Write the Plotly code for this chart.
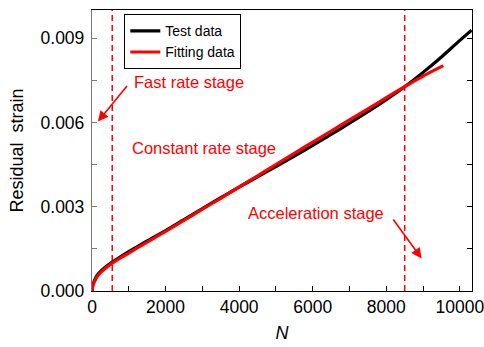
import plotly.graph_objects as go

# Residual strain vs. number of cycles N
n_test = [0, 20, 50, 80, 150, 260, 400, 550, 750, 1000, 1250, 1500, 2000, 2500, 3000,
          3500, 4000, 4500, 5000, 5500, 6000, 6500, 7000, 7500, 8000, 8500, 9000,
          9500, 10000, 10320]
strain_test = [0.0, 0.00020, 0.00032, 0.00041, 0.00058, 0.00073, 0.00089, 0.00103,
               0.00120, 0.00140, 0.00159, 0.00178, 0.00215, 0.00254, 0.00293, 0.00332,
               0.00370, 0.00406, 0.00443, 0.00480, 0.00518, 0.00557, 0.00597, 0.00638,
               0.00681, 0.00727, 0.00778, 0.00833, 0.00892, 0.00928]

n_fit = [0, 20, 50, 80, 150, 260, 400, 550, 750, 1000, 1250, 1500, 2000, 2500, 3000,
         3500, 4000, 4500, 5000, 5500, 6000, 6500, 7000, 7500, 8000, 8500, 9000, 9550]
strain_fit = [0.0, 0.00017, 0.00028, 0.00037, 0.00053, 0.00069, 0.00085, 0.00099,
              0.00116, 0.00135, 0.00155, 0.00174, 0.00212, 0.00251, 0.00291, 0.00330,
              0.00370, 0.00410, 0.00450, 0.00490, 0.00530, 0.00569, 0.00609, 0.00648,
              0.00688, 0.00727, 0.00765, 0.00802]

# Stage boundaries (cycles)
stage_bounds = [550, 8500]

RED = "#ff0000"
GREY = "#7a7a7a"
FONT = "Arial, Liberation Sans, sans-serif"

fig = go.Figure()
fig.add_trace(go.Scatter(x=n_test, y=strain_test, mode="lines", name="Test data",
                         line=dict(color="black", width=3.2, shape="spline", smoothing=0.8)))
fig.add_trace(go.Scatter(x=n_fit, y=strain_fit, mode="lines", name="Fitting data",
                         line=dict(color=RED, width=3.2, shape="spline", smoothing=0.8)))

for nb in stage_bounds:
    fig.add_shape(type="line", x0=nb, x1=nb, y0=0, y1=1, xref="x", yref="paper",
                  line=dict(color=RED, width=1.5, dash="6px,4px"), layer="below")

# Stage labels with arrows
fig.add_annotation(x=160, y=0.00603, ax=985, ay=0.00735, xref="x", yref="y",
                   axref="x", ayref="y", showarrow=True, arrowhead=2, arrowsize=1.3,
                   arrowwidth=1.6, arrowcolor=RED, text="")
fig.add_annotation(x=1090, y=0.00745, text="Fast rate stage", showarrow=False,
                   xanchor="left", yanchor="middle", font=dict(color=RED, size=16.5, family=FONT))
fig.add_annotation(x=1040, y=0.00509, text="Constant rate stage", showarrow=False,
                   xanchor="left", yanchor="middle", font=dict(color=RED, size=16.5, family=FONT))
fig.add_annotation(x=4190, y=0.00278, text="Acceleration stage", showarrow=False,
                   xanchor="left", yanchor="middle", font=dict(color=RED, size=16.5, family=FONT))
fig.add_annotation(x=8960, y=0.00116, ax=8160, ay=0.0026, xref="x", yref="y",
                   axref="x", ayref="y", showarrow=True, arrowhead=2, arrowsize=1.3,
                   arrowwidth=1.6, arrowcolor=RED, text="")

fig.update_layout(
    width=484, height=347,
    margin=dict(l=92, r=12, t=10, b=56, autoexpand=False),
    paper_bgcolor="white", plot_bgcolor="white",
    font=dict(family=FONT, color="black", size=16),
    showlegend=True,
    legend=dict(x=0.085, y=0.985, xanchor="left", yanchor="top",
                bordercolor="black", borderwidth=1, bgcolor="white",
                font=dict(size=14, family=FONT), tracegroupgap=0,
                itemwidth=30),
)
fig.update_xaxes(
    range=[0, 10330], dtick=2000, tick0=0, tickformat="d",
    ticklabeloverflow="allow", automargin=False,
    showline=True, linecolor="black", linewidth=1.3, mirror=True,
    ticks="inside", ticklen=5, tickwidth=1.2, tickcolor="black",
    minor=dict(dtick=1000, ticks="inside", ticklen=5, tickwidth=1.2, tickcolor="black"),
    showgrid=False, zeroline=False,
    tickfont=dict(size=17.5),
    title=dict(text="<i>N</i>", font=dict(size=18), standoff=10),
)
# Left axis (grey) with labels
fig.update_layout(yaxis=dict(
    range=[0, 0.0100], dtick=0.003, tick0=0, tickformat=".3f", automargin=False,
    showline=True, linecolor=GREY, linewidth=1.3, mirror=False,
    ticks="inside", ticklen=5, tickwidth=1.2, tickcolor=GREY,
    minor=dict(dtick=0.0015, ticks="inside", ticklen=5, tickwidth=1.2, tickcolor=GREY),
    showgrid=False, zeroline=False,
    tickfont=dict(size=17.5), ticklabelstandoff=3,
    title=dict(text="Residual  strain", font=dict(size=18), standoff=12),
))
# Right frame with mirrored ticks
fig.update_layout(yaxis2=dict(
    overlaying="y", side="right", matches="y", automargin=False,
    range=[0, 0.0100], dtick=0.003, tick0=0, showticklabels=False,
    showline=True, linecolor="black", linewidth=1.3,
    ticks="inside", ticklen=5, tickwidth=1.2, tickcolor="black",
    minor=dict(dtick=0.0015, ticks="inside", ticklen=5, tickwidth=1.2, tickcolor="black"),
    showgrid=False, zeroline=False,
))
# Invisible trace that anchors the right-hand axis
fig.add_trace(go.Scatter(x=[n_test[0]], y=[strain_test[0]], yaxis="y2", mode="lines",
                         showlegend=False, hoverinfo="skip", line=dict(width=0)))

fig.write_html("out.html")
